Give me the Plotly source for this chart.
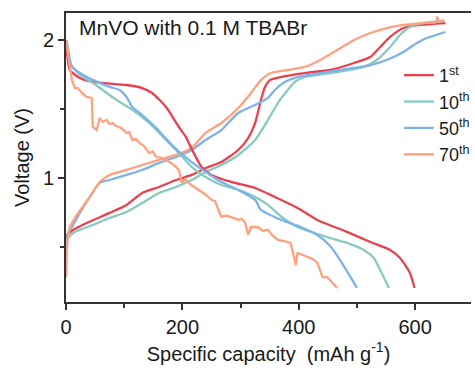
import plotly.graph_objects as go

# ---- data (specific capacity mAh/g, voltage V) ----
dis1_x = [0, 6.8, 23.8, 46, 104, 131, 148, 172, 194, 206, 211, 233, 250, 284, 325, 359, 398, 432, 483, 523, 557, 574, 591, 599]
dis1_y = [2.0, 1.782, 1.724, 1.695, 1.673, 1.651, 1.615, 1.513, 1.368, 1.296, 1.252, 1.078, 1.020, 0.969, 0.925, 0.860, 0.780, 0.693, 0.606, 0.533, 0.475, 0.417, 0.308, 0.199]

dis10_x = [0, 1.7, 6.8, 23.8, 46, 63, 87, 114, 143, 172, 194, 216, 240, 267, 296, 325, 347, 369, 398, 427, 454, 483, 512, 529, 540, 555]
dis10_y = [2.0, 1.978, 1.833, 1.746, 1.688, 1.637, 1.564, 1.492, 1.397, 1.274, 1.179, 1.078, 1.005, 0.947, 0.911, 0.860, 0.802, 0.720, 0.642, 0.598, 0.562, 0.526, 0.475, 0.417, 0.330, 0.199]

dis50_x = [0, 1.7, 10.2, 23.8, 46, 75, 92, 104, 114, 131, 155, 182, 211, 240, 267, 296, 325, 335, 369, 403, 432, 454, 471, 489, 500]
dis50_y = [2.0, 1.978, 1.804, 1.760, 1.710, 1.659, 1.637, 1.586, 1.513, 1.455, 1.361, 1.237, 1.129, 1.041, 0.969, 0.911, 0.839, 0.767, 0.694, 0.642, 0.584, 0.504, 0.402, 0.278, 0.199]

dis70_x = [0, 6.8, 10.2, 15.3, 20.4, 27.2, 35.7, 44.3, 46, 52.8, 57.9, 63, 69.8, 75, 80, 86, 91.9, 98, 104, 109, 114, 120, 126, 134, 143, 149, 155, 163, 172, 183, 194, 199, 205, 214, 228, 239, 250, 256, 262, 267, 275, 284, 290, 296, 302, 308, 313, 318, 330, 338, 347, 355, 364, 375, 386, 395, 398, 406, 415, 424, 432, 437, 441, 449, 457, 466]
dis70_y = [2.0, 1.804, 1.710, 1.651, 1.651, 1.615, 1.586, 1.579, 1.368, 1.346, 1.434, 1.405, 1.419, 1.390, 1.397, 1.375, 1.368, 1.350, 1.325, 1.330, 1.274, 1.280, 1.252, 1.230, 1.179, 1.190, 1.150, 1.145, 1.129, 1.100, 1.056, 0.962, 0.990, 0.950, 0.911, 0.880, 0.839, 0.830, 0.767, 0.716, 0.725, 0.716, 0.705, 0.694, 0.700, 0.672, 0.585, 0.643, 0.640, 0.615, 0.621, 0.580, 0.548, 0.540, 0.526, 0.366, 0.453, 0.440, 0.424, 0.410, 0.381, 0.330, 0.278, 0.278, 0.240, 0.199]

ch1_x = [0, 1.7, 11.9, 35.7, 75, 104, 131, 160, 189, 216, 240, 267, 296, 313, 325, 335, 342, 351, 369, 410, 454, 495, 523, 540, 557, 580, 608, 652]
ch1_y = [0.56, 0.582, 0.620, 0.671, 0.744, 0.802, 0.889, 0.932, 0.983, 1.020, 1.070, 1.114, 1.201, 1.288, 1.397, 1.564, 1.658, 1.710, 1.731, 1.760, 1.782, 1.833, 1.877, 1.949, 2.022, 2.087, 2.109, 2.123]

ch10_x = [0, 1.7, 11.9, 46, 75, 104, 131, 160, 189, 216, 240, 267, 296, 325, 347, 364, 381, 393, 410, 466, 512, 534, 557, 574, 591, 614, 649]
ch10_y = [0.50, 0.547, 0.598, 0.656, 0.707, 0.751, 0.816, 0.889, 0.932, 0.983, 1.041, 1.092, 1.165, 1.274, 1.419, 1.542, 1.637, 1.695, 1.731, 1.767, 1.804, 1.855, 1.949, 2.036, 2.094, 2.123, 2.138]

ch50_x = [0, 0.3, 1.7, 3.4, 10.2, 23.8, 40.9, 57.9, 74.9, 104, 131, 160, 189, 216, 240, 267, 296, 325, 347, 359, 376, 398, 437, 495, 523, 551, 580, 603, 620, 652]
ch50_y = [0.278, 0.40, 0.497, 0.598, 0.642, 0.744, 0.860, 0.962, 0.983, 1.020, 1.056, 1.107, 1.150, 1.201, 1.274, 1.346, 1.470, 1.528, 1.579, 1.637, 1.695, 1.731, 1.760, 1.797, 1.818, 1.855, 1.913, 1.978, 2.014, 2.058]

ch70_x = [0, 1.7, 6.8, 18.7, 40.9, 57.9, 74.9, 104, 131, 160, 189, 216, 240, 267, 296, 318, 335, 352, 381, 410, 437, 466, 495, 523, 551, 580, 614, 636, 638, 642, 650]
ch70_y = [0.278, 0.497, 0.642, 0.729, 0.860, 0.969, 1.020, 1.056, 1.092, 1.129, 1.165, 1.216, 1.325, 1.397, 1.506, 1.615, 1.709, 1.760, 1.782, 1.804, 1.855, 1.927, 2.000, 2.051, 2.087, 2.109, 2.123, 2.13, 2.167, 2.131, 2.145]

labels = ["1<sup>st</sup>", "10<sup>th</sup>", "50<sup>th</sup>", "70<sup>th</sup>"]
colors = ["#E8414F", "#86CBBE", "#7DB2E8", "#FFA07E"]

discharge = [(dis1_x, dis1_y), (dis10_x, dis10_y), (dis50_x, dis50_y), (dis70_x, dis70_y)]
charge = [(ch1_x, ch1_y), (ch10_x, ch10_y), (ch50_x, ch50_y), (ch70_x, ch70_y)]

FONT = "Liberation Sans, Arial, sans-serif"
fig = go.Figure()
for i in range(4):
    fig.add_trace(go.Scatter(x=charge[i][0], y=charge[i][1], mode="lines",
                             line=dict(color=colors[i], width=2.3, shape="spline", smoothing=0.6),
                             name=labels[i], legendgroup=str(i), showlegend=False))
for i in range(4):
    fig.add_trace(go.Scatter(x=discharge[i][0], y=discharge[i][1], mode="lines",
                             line=dict(color=colors[i], width=2.3,
                                       shape="spline" if i < 3 else "linear", smoothing=0.6),
                             name=labels[i], legendgroup=str(i), showlegend=True))

fig.update_layout(
    width=475, height=372,
    margin=dict(l=66, r=0, t=13, b=70),
    paper_bgcolor="white", plot_bgcolor="white",
    font=dict(family=FONT, size=20, color="#1a1a1a"),
    showlegend=True,
    legend=dict(x=0.822, y=0.848, xanchor="left", yanchor="top",
                bgcolor="rgba(0,0,0,0)", font=dict(size=18),
                tracegroupgap=0, itemwidth=30),
    annotations=[dict(text="MnVO with 0.1 M TBABr", x=0.028, y=0.995, xref="paper", yref="paper",
                      xanchor="left", yanchor="top", showarrow=False,
                      font=dict(size=21, family=FONT, color="#1a1a1a"))],
)
fig.update_xaxes(range=[0, 696], dtick=200, tick0=0, ticks="outside", ticklen=6, tickwidth=1.5,
                 tickcolor="#333", showline=True, linecolor="#333", linewidth=1.6, mirror=True,
                 showgrid=False, zeroline=False,
                 minor=dict(dtick=100, ticks="outside", ticklen=4, tickcolor="#333", tickwidth=1.5, showgrid=False),
                 title=dict(text="Specific capacity  (mAh g<sup>-1</sup>)", font=dict(size=20), standoff=10))
fig.update_yaxes(range=[0.097, 2.196], dtick=1, tick0=0, ticks="outside", ticklen=6, tickwidth=1.5,
                 tickcolor="#333", showline=True, linecolor="#333", linewidth=1.6, mirror=False,
                 showgrid=False, zeroline=False,
                 minor=dict(dtick=0.5, ticks="outside", ticklen=4, tickcolor="#333", tickwidth=1.5, showgrid=False),
                 title=dict(text="Voltage (V)", font=dict(size=20), standoff=8))

fig.write_html("out.html")
